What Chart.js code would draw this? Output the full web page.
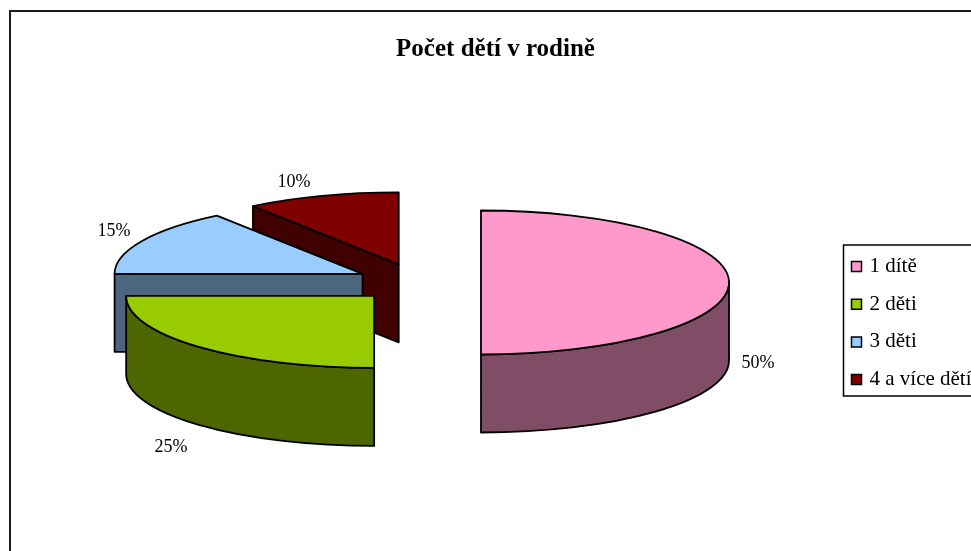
<!DOCTYPE html>
<html>
<head>
<meta charset="utf-8">
<title>Počet dětí v rodině</title>
<style>html,body{margin:0;padding:0;background:#fff;overflow:hidden}canvas{display:block}</style>
<script src="https://cdn.jsdelivr.net/npm/chart.js@4/dist/chart.umd.min.js"></script>
</head>
<body>
<canvas id="c" width="971" height="551"></canvas>
<script>
const chartTitle = 'Počet dětí v rodině';
const categories = ['1 dítě', '2 děti', '3 děti', '4 a více dětí'];
const shares = [50, 25, 15, 10];
const percentLabels = ['50%', '25%', '15%', '10%'];
const topColors = ['#FF99CC', '#99CC00', '#99CCFF', '#800000'];
const sideColors = ['#804D66', '#4D6600', '#4D6680', '#400000'];

const FONT = '"Liberation Serif", "Times New Roman", serif';
const PIE_X = 418, PIE_Y = 282.5, RADIUS = 248, SQUASH = 72 / 248, DEPTH = 78;
const EXPLODE_X = 62, EXPLODE_Y = 19;
const labelSpots = [[758, 363], [171, 447], [114, 231], [294, 182]];

function geometry(arc) {
  const half = (arc.startAngle + arc.endAngle) / 2;
  const fix = 1 - Math.sin(Math.min(Math.PI, arc.circumference));
  const dx = Math.cos(half) * EXPLODE_X, dy = Math.sin(half) * EXPLODE_Y;
  return {
    baseX: PIE_X + dx, baseY: PIE_Y + dy,
    x: PIE_X + dx + Math.cos(half) * fix,
    y: PIE_Y + dy + Math.sin(half) * fix * SQUASH,
    rx: arc.outerRadius, ry: arc.outerRadius * SQUASH
  };
}

function drawSide(ctx, arc, g, color) {
  ctx.fillStyle = color;
  const at = a => [g.x + g.rx * Math.cos(a), g.y + g.ry * Math.sin(a)];
  // only the cut faces that look towards the viewer are drawn
  const faces = [];
  if (-Math.cos(arc.startAngle) > 1e-6) faces.push(arc.startAngle);
  if (Math.cos(arc.endAngle) > 1e-6) faces.push(arc.endAngle);
  faces.forEach(a => {
    const p = at(a);
    ctx.beginPath();
    ctx.moveTo(g.x, g.y);
    ctx.lineTo(p[0], p[1]);
    ctx.lineTo(p[0], p[1] + DEPTH);
    ctx.lineTo(g.x, g.y + DEPTH);
    ctx.closePath();
    ctx.fill();
    ctx.stroke();
  });
  const a0 = Math.max(arc.startAngle, 0), a1 = Math.min(arc.endAngle, Math.PI);
  if (a1 > a0) {
    ctx.beginPath();
    ctx.ellipse(g.x, g.y, g.rx, g.ry, 0, a0, a1);
    ctx.ellipse(g.x, g.y + DEPTH, g.rx, g.ry, 0, a1, a0, true);
    ctx.closePath();
    ctx.fill();
    ctx.stroke();
  }
}

const pie3d = {
  id: 'pie3d',
  beforeDraw(chart) {
    const ctx = chart.ctx;
    ctx.save();
    ctx.fillStyle = '#fff';
    ctx.fillRect(0, 0, chart.width, chart.height);
    ctx.strokeStyle = '#1a1a1a';
    ctx.lineWidth = 2;
    ctx.strokeRect(10, 11, chart.width + 50, chart.height + 50);
    ctx.lineWidth = 1.5;
    ctx.strokeStyle = '#000';
    ctx.fillStyle = '#fff';
    ctx.beginPath();
    ctx.rect(843.5, 245, 200, 151);
    ctx.fill();
    ctx.stroke();
    ctx.restore();
  },
  afterLayout(chart) {
    const l = chart.legend, pad = l.options.labels.padding;
    l.left = 854 - pad;
    l.right = l.left + l.width;
    l.top = 256 - pad;
    l.bottom = chart.height;
  },
  beforeDatasetsDraw(chart) {
    const ctx = chart.ctx, arcs = chart.getDatasetMeta(0).data;
    ctx.save();
    ctx.lineJoin = 'round';
    ctx.strokeStyle = '#000';
    ctx.lineWidth = 1.8;
    for (let i = arcs.length - 1; i >= 0; i--) {
      const arc = arcs[i], g = geometry(arc);
      drawSide(ctx, arc, g, sideColors[i]);
      ctx.save();
      ctx.translate(g.baseX, g.baseY);
      ctx.scale(1, SQUASH);
      ctx.translate(-arc.x, -arc.y);
      arc.draw(ctx);
      ctx.restore();
      ctx.beginPath();
      ctx.moveTo(g.x, g.y);
      ctx.ellipse(g.x, g.y, g.rx, g.ry, 0, arc.startAngle, arc.endAngle);
      ctx.closePath();
      ctx.stroke();
    }
    ctx.fillStyle = '#000';
    ctx.font = '18px ' + FONT;
    ctx.textAlign = 'center';
    ctx.textBaseline = 'middle';
    percentLabels.forEach((t, i) => ctx.fillText(t, labelSpots[i][0], labelSpots[i][1]));
    ctx.restore();
    return false;
  }
};

new Chart(document.getElementById('c'), {
  type: 'pie',
  data: {
    labels: categories,
    datasets: [{ data: shares, backgroundColor: topColors, borderWidth: 0 }]
  },
  plugins: [pie3d],
  options: {
    responsive: false,
    animation: false,
    radius: RADIUS,
    layout: { padding: { left: 20 } },
    plugins: {
      tooltip: { enabled: false },
      title: {
        display: true,
        text: chartTitle,
        color: '#000',
        font: { family: FONT, size: 25, weight: 'bold' },
        padding: { top: 35, bottom: 0 }
      },
      legend: {
        position: 'right',
        align: 'start',
        labels: {
          color: '#000',
          font: { family: FONT, size: 21 },
          usePointStyle: true,
          pointStyle: 'rect',
          boxWidth: 5,
          boxHeight: 10,
          padding: 16.7,
          generateLabels(chart) {
            return Chart.overrides.pie.plugins.legend.labels.generateLabels(chart).map(item => {
              item.lineWidth = 1.5;
              item.strokeStyle = '#000';
              return item;
            });
          }
        }
      }
    }
  }
});
</script>
</body>
</html>
